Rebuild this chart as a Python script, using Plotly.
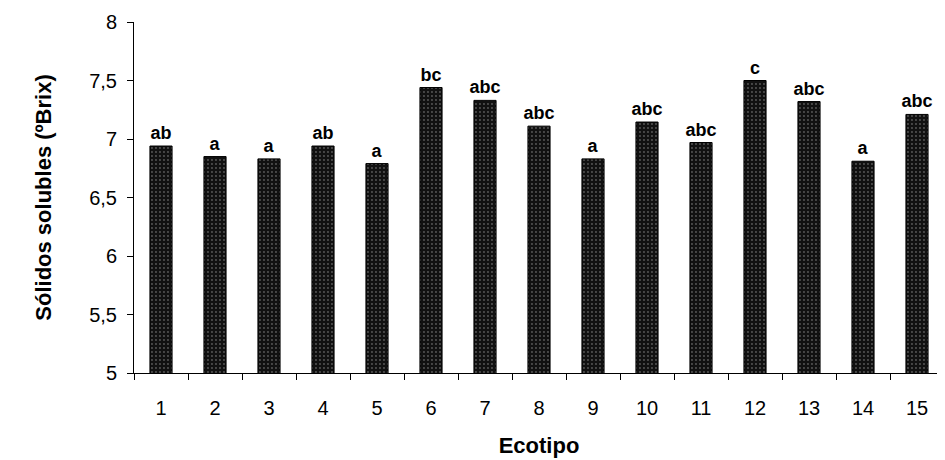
import plotly.graph_objects as go

ecotipos = [str(i) for i in range(1, 16)]
solidos = [6.94, 6.85, 6.83, 6.94, 6.79, 7.44, 7.33, 7.11, 6.83, 7.145, 6.97, 7.50, 7.32, 6.81, 7.21]
letras = ["ab", "a", "a", "ab", "a", "bc", "abc", "abc", "a", "abc", "abc", "c", "abc", "a", "abc"]
y_ticks = [5, 5.5, 6, 6.5, 7, 7.5, 8]
y_ticktext = ["5", "5,5", "6", "6,5", "7", "7,5", "8"]

fig = go.Figure(go.Bar(
    x=ecotipos, y=solidos, text=letras, textposition="outside", constraintext="none",
    textfont=dict(family="Liberation Sans", size=18, color="black", weight="bold"),
    cliponaxis=False, width=0.41,
    marker=dict(color="#1a1a1a", line=dict(color="black", width=1),
                pattern=dict(shape=".", fgcolor="#a0a0a0", bgcolor="#111111", size=4, solidity=0.18)),
))

# page body has an 8px margin, so the figure is sized/offset to compensate
fig.update_layout(
    width=937, height=452, plot_bgcolor="white", paper_bgcolor="white",
    margin=dict(l=126, r=1, t=14, b=87),
    font=dict(family="Liberation Sans", color="black"),
    showlegend=False, bargap=0.59,
)
fig.update_xaxes(
    type="category", tickson="boundaries", ticks="outside", ticklen=6, tickcolor="black",
    showline=True, linecolor="black", linewidth=1, showgrid=False, automargin=False,
    tickfont=dict(size=20), ticklabelstandoff=17,
    title=dict(text="Ecotipo", font=dict(size=22, weight="bold"), standoff=19),
)
fig.update_yaxes(
    range=[5, 8], tickvals=y_ticks, ticktext=y_ticktext, ticks="outside", ticklen=6,
    tickcolor="black", showline=True, linecolor="black", linewidth=1, showgrid=False,
    zeroline=False, tickfont=dict(size=20), automargin=False, ticklabelstandoff=6,
    title=dict(text="Sólidos solubles (ºBrix)", font=dict(size=22, weight="bold"), standoff=31),
)

fig.write_html("out.html")
